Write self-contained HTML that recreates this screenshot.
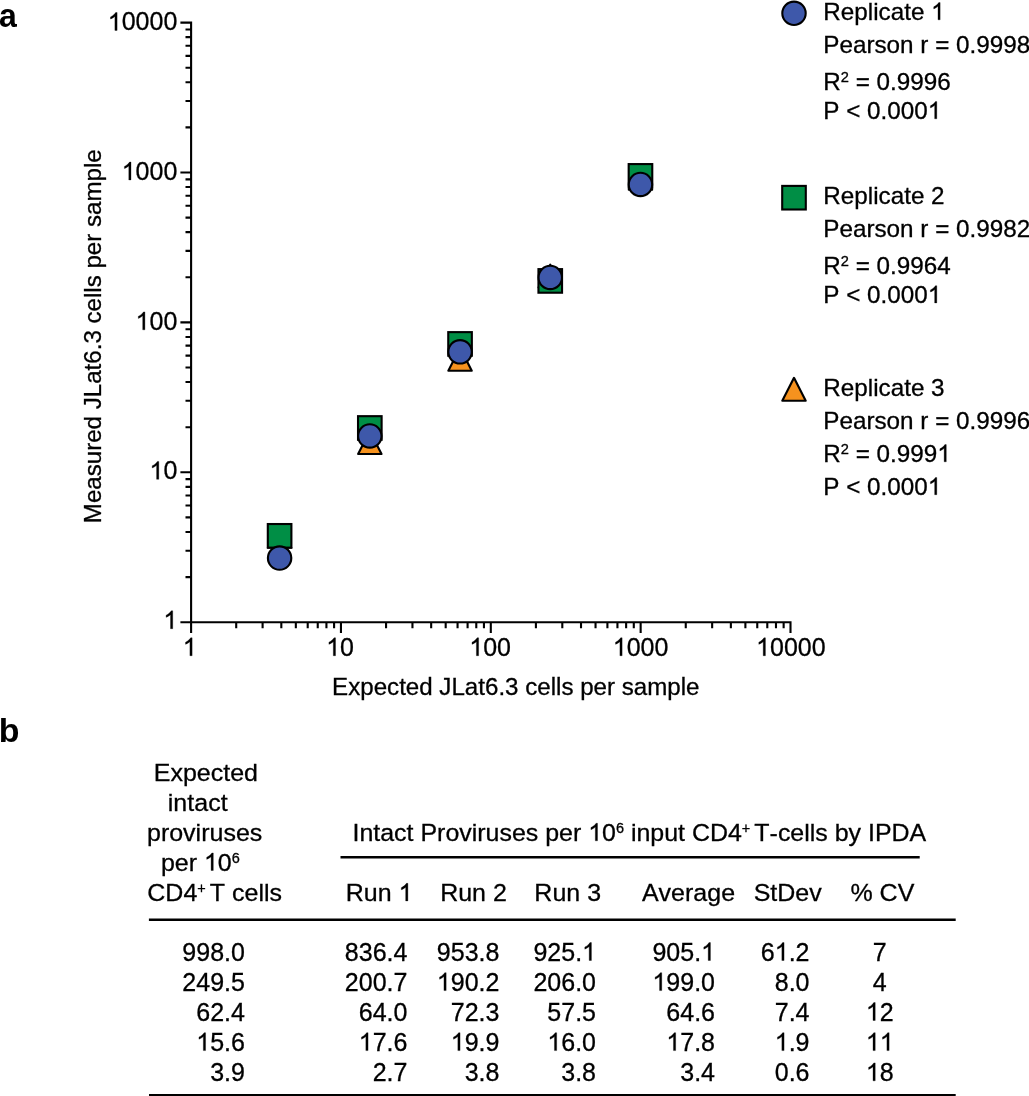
<!DOCTYPE html>
<html><head><meta charset="utf-8"><style>
html,body{margin:0;padding:0;background:#fff;width:1029px;height:1096px;overflow:hidden}
text{font-family:"Liberation Sans",sans-serif;white-space:pre}
</style></head><body>
<svg width="1029" height="1096" viewBox="0 0 1029 1096" style="position:absolute;left:0;top:0;will-change:transform" font-family="Liberation Sans, sans-serif">
<rect width="1029" height="1096" fill="#fff"/>
<text transform="translate(-0.9,26.5) scale(1,1.04)" font-size="32" font-weight="bold">a</text>
<text transform="translate(-1.2,742.1) scale(1.06,1.04)" font-size="32" font-weight="bold">b</text>
<path d="M180.40,22.60H191.10V632.90 M180.40,622.20H790.50V632.90 M180.40,622.20H191.10 M191.10,622.20V632.90 M185.50,577.08H191.10 M236.21,622.20V628.20 M185.50,550.68H191.10 M262.60,622.20V628.20 M185.50,531.95H191.10 M281.32,622.20V628.20 M185.50,517.42H191.10 M295.84,622.20V628.20 M185.50,505.56H191.10 M307.71,622.20V628.20 M185.50,495.52H191.10 M317.74,622.20V628.20 M185.50,486.83H191.10 M326.43,622.20V628.20 M185.50,479.16H191.10 M334.09,622.20V628.20 M180.40,472.30H191.10 M340.95,622.20V632.90 M185.50,427.18H191.10 M386.06,622.20V628.20 M185.50,400.78H191.10 M412.45,622.20V628.20 M185.50,382.05H191.10 M431.17,622.20V628.20 M185.50,367.52H191.10 M445.69,622.20V628.20 M185.50,355.66H191.10 M457.56,622.20V628.20 M185.50,345.62H191.10 M467.59,622.20V628.20 M185.50,336.93H191.10 M476.28,622.20V628.20 M185.50,329.26H191.10 M483.94,622.20V628.20 M180.40,322.40H191.10 M490.80,622.20V632.90 M185.50,277.28H191.10 M535.91,622.20V628.20 M185.50,250.88H191.10 M562.30,622.20V628.20 M185.50,232.15H191.10 M581.02,622.20V628.20 M185.50,217.62H191.10 M595.54,622.20V628.20 M185.50,205.76H191.10 M607.41,622.20V628.20 M185.50,195.72H191.10 M617.44,622.20V628.20 M185.50,187.03H191.10 M626.13,622.20V628.20 M185.50,179.36H191.10 M633.79,622.20V628.20 M180.40,172.50H191.10 M640.65,622.20V632.90 M185.50,127.38H191.10 M685.76,622.20V628.20 M185.50,100.98H191.10 M712.15,622.20V628.20 M185.50,82.25H191.10 M730.87,622.20V628.20 M185.50,67.72H191.10 M745.39,622.20V628.20 M185.50,55.86H191.10 M757.26,622.20V628.20 M185.50,45.82H191.10 M767.29,622.20V628.20 M185.50,37.13H191.10 M775.98,622.20V628.20 M185.50,29.46H191.10 M783.64,622.20V628.20 M180.40,22.60H191.10 M790.50,622.20V632.90" stroke="#000" stroke-width="2.1" fill="none" stroke-linecap="butt" stroke-linejoin="miter"/>
<g transform="translate(163.40,628.70) scale(1.0000,1.0000)"><text xml:space="preserve" x="0.00" y="0" font-size="25" stroke="#000" stroke-width="0.3"> </text><g stroke="#000" stroke-width="25.6"><path transform="translate(0.00,0) scale(0.01221,-0.01221)" d="M763,0L583,0L583,1147C540,1106 483,1065 413,1024C343,983 280,952 223,931L223,1105C323,1152 411,1210 486,1277C561,1344 614,1407 645,1466L763,1466Z"/></g></g>
<g transform="translate(182.80,655.70) scale(1.0000,1.0000)"><text xml:space="preserve" x="0.00" y="0" font-size="25" stroke="#000" stroke-width="0.3"> </text><g stroke="#000" stroke-width="25.6"><path transform="translate(0.00,0) scale(0.01221,-0.01221)" d="M763,0L583,0L583,1147C540,1106 483,1065 413,1024C343,983 280,952 223,931L223,1105C323,1152 411,1210 486,1277C561,1344 614,1407 645,1466L763,1466Z"/></g></g>
<g transform="translate(149.49,479.30) scale(1.0000,1.0000)"><text xml:space="preserve" x="0.00 13.90" y="0" font-size="25" stroke="#000" stroke-width="0.3"> 0</text><g stroke="#000" stroke-width="25.6"><path transform="translate(0.00,0) scale(0.01221,-0.01221)" d="M763,0L583,0L583,1147C540,1106 483,1065 413,1024C343,983 280,952 223,931L223,1105C323,1152 411,1210 486,1277C561,1344 614,1407 645,1466L763,1466Z"/></g></g>
<g transform="translate(326.20,655.70) scale(1.0000,1.0000)"><text xml:space="preserve" x="0.00 13.90" y="0" font-size="25" stroke="#000" stroke-width="0.3"> 0</text><g stroke="#000" stroke-width="25.6"><path transform="translate(0.00,0) scale(0.01221,-0.01221)" d="M763,0L583,0L583,1147C540,1106 483,1065 413,1024C343,983 280,952 223,931L223,1105C323,1152 411,1210 486,1277C561,1344 614,1407 645,1466L763,1466Z"/></g></g>
<g transform="translate(135.59,329.80) scale(1.0000,1.0000)"><text xml:space="preserve" x="0.00 13.90 27.81" y="0" font-size="25" stroke="#000" stroke-width="0.3"> 00</text><g stroke="#000" stroke-width="25.6"><path transform="translate(0.00,0) scale(0.01221,-0.01221)" d="M763,0L583,0L583,1147C540,1106 483,1065 413,1024C343,983 280,952 223,931L223,1105C323,1152 411,1210 486,1277C561,1344 614,1407 645,1466L763,1466Z"/></g></g>
<g transform="translate(469.30,655.70) scale(1.0000,1.0000)"><text xml:space="preserve" x="0.00 13.90 27.81" y="0" font-size="25" stroke="#000" stroke-width="0.3"> 00</text><g stroke="#000" stroke-width="25.6"><path transform="translate(0.00,0) scale(0.01221,-0.01221)" d="M763,0L583,0L583,1147C540,1106 483,1065 413,1024C343,983 280,952 223,931L223,1105C323,1152 411,1210 486,1277C561,1344 614,1407 645,1466L763,1466Z"/></g></g>
<g transform="translate(121.68,179.90) scale(1.0000,1.0000)"><text xml:space="preserve" x="0.00 13.90 27.81 41.71" y="0" font-size="25" stroke="#000" stroke-width="0.3"> 000</text><g stroke="#000" stroke-width="25.6"><path transform="translate(0.00,0) scale(0.01221,-0.01221)" d="M763,0L583,0L583,1147C540,1106 483,1065 413,1024C343,983 280,952 223,931L223,1105C323,1152 411,1210 486,1277C561,1344 614,1407 645,1466L763,1466Z"/></g></g>
<g transform="translate(612.80,655.70) scale(1.0000,1.0000)"><text xml:space="preserve" x="0.00 13.90 27.81 41.71" y="0" font-size="25" stroke="#000" stroke-width="0.3"> 000</text><g stroke="#000" stroke-width="25.6"><path transform="translate(0.00,0) scale(0.01221,-0.01221)" d="M763,0L583,0L583,1147C540,1106 483,1065 413,1024C343,983 280,952 223,931L223,1105C323,1152 411,1210 486,1277C561,1344 614,1407 645,1466L763,1466Z"/></g></g>
<g transform="translate(107.78,30.40) scale(1.0000,1.0000)"><text xml:space="preserve" x="0.00 13.90 27.81 41.71 55.62" y="0" font-size="25" stroke="#000" stroke-width="0.3"> 0000</text><g stroke="#000" stroke-width="25.6"><path transform="translate(0.00,0) scale(0.01221,-0.01221)" d="M763,0L583,0L583,1147C540,1106 483,1065 413,1024C343,983 280,952 223,931L223,1105C323,1152 411,1210 486,1277C561,1344 614,1407 645,1466L763,1466Z"/></g></g>
<g transform="translate(756.10,655.70) scale(1.0000,1.0000)"><text xml:space="preserve" x="0.00 13.90 27.81 41.71 55.62" y="0" font-size="25" stroke="#000" stroke-width="0.3"> 0000</text><g stroke="#000" stroke-width="25.6"><path transform="translate(0.00,0) scale(0.01221,-0.01221)" d="M763,0L583,0L583,1147C540,1106 483,1065 413,1024C343,983 280,952 223,931L223,1105C323,1152 411,1210 486,1277C561,1344 614,1407 645,1466L763,1466Z"/></g></g>
<g transform="translate(332.12,695.10) scale(1.0050,1.0000)"><text xml:space="preserve" x="0.00 16.01 28.01 41.36 54.70 66.70 73.37 86.72 100.07 106.73 118.73 132.08 145.43 152.10 165.45 172.11 185.46 192.13 204.13 217.48 222.81 228.14 240.14 246.81 260.16 273.50 281.50 288.16 300.16 313.51 333.50 346.85 352.18" y="0" font-size="24" stroke="#000" stroke-width="0.3">Expected JLat6.3 cells per sample</text></g>
<g transform="translate(100.90,523.18) rotate(-90) scale(1.0045,1.0000)"><text xml:space="preserve" x="0.00 19.99 33.34 46.69 58.69 72.04 80.03 93.38 106.72 113.39 125.39 138.74 152.09 158.75 172.10 178.77 192.12 198.79 210.79 224.13 229.46 234.80 246.80 253.46 266.81 280.16 288.15 294.82 306.82 320.17 340.16 353.51 358.84" y="0" font-size="24" stroke="#000" stroke-width="0.3">Measured JLat6.3 cells per sample</text></g>
<path d="M640.47,166.82L652.17,189.72H628.77Z" fill="#F6921E" stroke="#000" stroke-width="2.15" stroke-linejoin="round"/>
<path d="M550.25,264.67L561.95,287.57H538.55Z" fill="#F6921E" stroke="#000" stroke-width="2.15" stroke-linejoin="round"/>
<path d="M460.05,347.80L471.75,370.70H448.35Z" fill="#F6921E" stroke="#000" stroke-width="2.15" stroke-linejoin="round"/>
<path d="M369.82,431.13L381.52,454.03H358.12Z" fill="#F6921E" stroke="#000" stroke-width="2.15" stroke-linejoin="round"/>
<path d="M279.60,524.78L291.30,547.68H267.90Z" fill="#F6921E" stroke="#000" stroke-width="2.15" stroke-linejoin="round"/>
<rect x="628.67" y="164.08" width="23.6" height="23.6" fill="#008E45" stroke="#000" stroke-width="2.1"/>
<rect x="538.45" y="269.12" width="23.6" height="23.6" fill="#008E45" stroke="#000" stroke-width="2.1"/>
<rect x="448.25" y="332.13" width="23.6" height="23.6" fill="#008E45" stroke="#000" stroke-width="2.1"/>
<rect x="358.02" y="416.17" width="23.6" height="23.6" fill="#008E45" stroke="#000" stroke-width="2.1"/>
<rect x="267.80" y="524.03" width="23.6" height="23.6" fill="#008E45" stroke="#000" stroke-width="2.1"/>
<circle cx="640.47" cy="184.44" r="11.7" fill="#3E58AA" stroke="#000" stroke-width="2.1"/>
<circle cx="550.25" cy="277.42" r="11.7" fill="#3E58AA" stroke="#000" stroke-width="2.1"/>
<circle cx="460.05" cy="351.87" r="11.7" fill="#3E58AA" stroke="#000" stroke-width="2.1"/>
<circle cx="369.82" cy="435.97" r="11.7" fill="#3E58AA" stroke="#000" stroke-width="2.1"/>
<circle cx="279.60" cy="558.10" r="11.7" fill="#3E58AA" stroke="#000" stroke-width="2.1"/>
<circle cx="794.00" cy="13.30" r="11.7" fill="#3E58AA" stroke="#000" stroke-width="2.1"/>
<rect x="782.20" y="185.90" width="23.6" height="23.6" fill="#008E45" stroke="#000" stroke-width="2.1"/>
<path d="M794.00,377.85L805.70,400.75H782.30Z" fill="#F6921E" stroke="#000" stroke-width="2.15" stroke-linejoin="round"/>
<g transform="translate(823.31,19.80) scale(1.0100,1.0000)"><text xml:space="preserve" x="0.00 17.33 30.68 44.03 49.36 54.69 66.69 80.04 86.71 100.05 106.72" y="0" font-size="24" stroke="#000" stroke-width="0.3">Replicate  </text><g stroke="#000" stroke-width="25.6"><path transform="translate(106.72,0) scale(0.01172,-0.01172)" d="M763,0L583,0L583,1147C540,1106 483,1065 413,1024C343,983 280,952 223,931L223,1105C323,1152 411,1210 486,1277C561,1344 614,1407 645,1466L763,1466Z"/></g></g><g transform="translate(823.31,52.60) scale(1.0100,1.0000)"><text xml:space="preserve" x="0.00 16.01 29.36 42.70 50.70 62.70 76.04 89.39 96.06 104.05 110.72 124.73 131.40 144.75 151.42 164.77 178.11 191.46" y="0" font-size="24" stroke="#000" stroke-width="0.3">Pearson r = 0.9998</text></g><g transform="translate(823.31,89.70) scale(1.0100,1.0000)"><text xml:space="preserve" x="0.00" y="0" font-size="24" stroke="#000" stroke-width="0.3">R</text><text xml:space="preserve" x="17.33" y="-8.0" font-size="14.5" stroke="#000" stroke-width="0.3">2</text><text xml:space="preserve" x="25.40 32.06 46.08 52.75 66.10 72.76 86.11 99.46 112.81" y="0" font-size="24" stroke="#000" stroke-width="0.3"> = 0.9996</text></g><g transform="translate(823.31,118.80) scale(1.0100,1.0000)"><text xml:space="preserve" x="0.00 16.01 22.68 36.69 43.36 56.71 63.38 76.72 90.07 103.42" y="0" font-size="24" stroke="#000" stroke-width="0.3">P &lt; 0.000 </text><g stroke="#000" stroke-width="25.6"><path transform="translate(103.42,0) scale(0.01172,-0.01172)" d="M763,0L583,0L583,1147C540,1106 483,1065 413,1024C343,983 280,952 223,931L223,1105C323,1152 411,1210 486,1277C561,1344 614,1407 645,1466L763,1466Z"/></g></g>
<g transform="translate(823.31,204.30) scale(1.0100,1.0000)"><text xml:space="preserve" x="0.00 17.33 30.68 44.03 49.36 54.69 66.69 80.04 86.71 100.05 106.72" y="0" font-size="24" stroke="#000" stroke-width="0.3">Replicate 2</text></g><g transform="translate(823.31,237.20) scale(1.0100,1.0000)"><text xml:space="preserve" x="0.00 16.01 29.36 42.70 50.70 62.70 76.04 89.39 96.06 104.05 110.72 124.73 131.40 144.75 151.42 164.77 178.11 191.46" y="0" font-size="24" stroke="#000" stroke-width="0.3">Pearson r = 0.9982</text></g><g transform="translate(823.31,274.10) scale(1.0100,1.0000)"><text xml:space="preserve" x="0.00" y="0" font-size="24" stroke="#000" stroke-width="0.3">R</text><text xml:space="preserve" x="17.33" y="-8.0" font-size="14.5" stroke="#000" stroke-width="0.3">2</text><text xml:space="preserve" x="25.40 32.06 46.08 52.75 66.10 72.76 86.11 99.46 112.81" y="0" font-size="24" stroke="#000" stroke-width="0.3"> = 0.9964</text></g><g transform="translate(823.31,302.90) scale(1.0100,1.0000)"><text xml:space="preserve" x="0.00 16.01 22.68 36.69 43.36 56.71 63.38 76.72 90.07 103.42" y="0" font-size="24" stroke="#000" stroke-width="0.3">P &lt; 0.000 </text><g stroke="#000" stroke-width="25.6"><path transform="translate(103.42,0) scale(0.01172,-0.01172)" d="M763,0L583,0L583,1147C540,1106 483,1065 413,1024C343,983 280,952 223,931L223,1105C323,1152 411,1210 486,1277C561,1344 614,1407 645,1466L763,1466Z"/></g></g>
<g transform="translate(823.31,396.00) scale(1.0100,1.0000)"><text xml:space="preserve" x="0.00 17.33 30.68 44.03 49.36 54.69 66.69 80.04 86.71 100.05 106.72" y="0" font-size="24" stroke="#000" stroke-width="0.3">Replicate 3</text></g><g transform="translate(823.31,428.80) scale(1.0100,1.0000)"><text xml:space="preserve" x="0.00 16.01 29.36 42.70 50.70 62.70 76.04 89.39 96.06 104.05 110.72 124.73 131.40 144.75 151.42 164.77 178.11 191.46" y="0" font-size="24" stroke="#000" stroke-width="0.3">Pearson r = 0.9996</text></g><g transform="translate(823.31,461.80) scale(1.0100,1.0000)"><text xml:space="preserve" x="0.00" y="0" font-size="24" stroke="#000" stroke-width="0.3">R</text><text xml:space="preserve" x="17.33" y="-8.0" font-size="14.5" stroke="#000" stroke-width="0.3">2</text><text xml:space="preserve" x="25.40 32.06 46.08 52.75 66.10 72.76 86.11 99.46 112.81" y="0" font-size="24" stroke="#000" stroke-width="0.3"> = 0.999 </text><g stroke="#000" stroke-width="25.6"><path transform="translate(112.81,0) scale(0.01172,-0.01172)" d="M763,0L583,0L583,1147C540,1106 483,1065 413,1024C343,983 280,952 223,931L223,1105C323,1152 411,1210 486,1277C561,1344 614,1407 645,1466L763,1466Z"/></g></g><g transform="translate(823.31,494.70) scale(1.0100,1.0000)"><text xml:space="preserve" x="0.00 16.01 22.68 36.69 43.36 56.71 63.38 76.72 90.07 103.42" y="0" font-size="24" stroke="#000" stroke-width="0.3">P &lt; 0.000 </text><g stroke="#000" stroke-width="25.6"><path transform="translate(103.42,0) scale(0.01172,-0.01172)" d="M763,0L583,0L583,1147C540,1106 483,1065 413,1024C343,983 280,952 223,931L223,1105C323,1152 411,1210 486,1277C561,1344 614,1407 645,1466L763,1466Z"/></g></g>
<g transform="translate(153.75,780.50) scale(1.0000,0.9800)"><text xml:space="preserve" x="0.00 16.67 29.17 43.08 56.98 69.48 76.43 90.33" y="0" font-size="25" stroke="#000" stroke-width="0.3">Expected</text></g>
<g transform="translate(167.83,810.60) scale(1.0000,0.9800)"><text xml:space="preserve" x="0.00 5.55 19.46 26.40 40.31 52.81" y="0" font-size="25" stroke="#000" stroke-width="0.3">intact</text></g>
<g transform="translate(146.99,840.60) scale(1.0000,0.9800)"><text xml:space="preserve" x="0.00 13.90 22.23 36.13 48.63 54.19 62.51 76.42 88.92 102.82" y="0" font-size="25" stroke="#000" stroke-width="0.3">proviruses</text></g>
<g transform="translate(160.89,870.50) scale(1.0000,0.9800)"><text xml:space="preserve" x="0.00 13.90 27.81 36.13 43.08 56.98" y="0" font-size="25" stroke="#000" stroke-width="0.3">per  0</text><text xml:space="preserve" x="70.89" y="-8.1" font-size="14.5" stroke="#000" stroke-width="0.3">6</text><g stroke="#000" stroke-width="25.6"><path transform="translate(43.08,0) scale(0.01221,-0.01221)" d="M763,0L583,0L583,1147C540,1106 483,1065 413,1024C343,983 280,952 223,931L223,1105C323,1152 411,1210 486,1277C561,1344 614,1407 645,1466L763,1466Z"/></g></g>
<g transform="translate(147.33,900.90) scale(1.0000,0.9800)"><text xml:space="preserve" x="0.00 18.05 36.11" y="0" font-size="25" stroke="#000" stroke-width="0.3">CD4</text><text xml:space="preserve" x="50.01 58.48" y="-8.1" font-size="14.5" stroke="#000" stroke-width="0.3">+ </text><text xml:space="preserve" x="62.51 77.78 84.73 97.23 111.13 116.68 122.24" y="0" font-size="25" stroke="#000" stroke-width="0.3">T cells</text></g>
<g transform="translate(352.50,840.80) scale(0.9979,0.9800)"><text xml:space="preserve" x="0.00 6.95 20.85 27.80 41.70 54.20 61.15 68.09 84.77 93.09 106.99 119.49 125.05 133.37 147.28 159.78 173.68 186.18 193.13 207.03 220.94 229.26 236.21 250.11" y="0" font-size="25" stroke="#000" stroke-width="0.3">Intact Proviruses per  0</text><text xml:space="preserve" x="264.01" y="-8.1" font-size="14.5" stroke="#000" stroke-width="0.3">6</text><text xml:space="preserve" x="272.08 279.02 284.58 298.48 312.39 326.29 333.24 340.18 358.24 376.29" y="0" font-size="25" stroke="#000" stroke-width="0.3"> input CD4</text><text xml:space="preserve" x="390.19 398.66" y="-8.1" font-size="14.5" stroke="#000" stroke-width="0.3">+ </text><text xml:space="preserve" x="402.69 417.96 426.29 438.79 452.69 458.24 463.80 476.30 483.24 497.15 509.65 516.59 523.54 540.21 558.27" y="0" font-size="25" stroke="#000" stroke-width="0.3">T-cells by IPDA</text><g stroke="#000" stroke-width="25.6"><path transform="translate(236.21,0) scale(0.01221,-0.01221)" d="M763,0L583,0L583,1147C540,1106 483,1065 413,1024C343,983 280,952 223,931L223,1105C323,1152 411,1210 486,1277C561,1344 614,1407 645,1466L763,1466Z"/></g></g>
<path d="M340.5,857.2H919.7" stroke="#000" stroke-width="2.4"/>
<g transform="translate(345.75,900.90) scale(1.0000,0.9800)"><text xml:space="preserve" x="0.00 18.05 31.96 45.86 52.81" y="0" font-size="25" stroke="#000" stroke-width="0.3">Run  </text><g stroke="#000" stroke-width="25.6"><path transform="translate(52.81,0) scale(0.01221,-0.01221)" d="M763,0L583,0L583,1147C540,1106 483,1065 413,1024C343,983 280,952 223,931L223,1105C323,1152 411,1210 486,1277C561,1344 614,1407 645,1466L763,1466Z"/></g></g>
<g transform="translate(440.15,900.90) scale(1.0000,0.9800)"><text xml:space="preserve" x="0.00 18.05 31.96 45.86 52.81" y="0" font-size="25" stroke="#000" stroke-width="0.3">Run 2</text></g>
<g transform="translate(534.35,900.90) scale(1.0000,0.9800)"><text xml:space="preserve" x="0.00 18.05 31.96 45.86 52.81" y="0" font-size="25" stroke="#000" stroke-width="0.3">Run 3</text></g>
<g transform="translate(641.95,900.90) scale(1.0000,0.9800)"><text xml:space="preserve" x="0.00 16.67 29.17 43.08 51.40 65.31 79.21" y="0" font-size="25" stroke="#000" stroke-width="0.3">Average</text></g>
<g transform="translate(753.66,900.90) scale(1.0000,0.9800)"><text xml:space="preserve" x="0.00 16.67 23.62 41.67 55.58" y="0" font-size="25" stroke="#000" stroke-width="0.3">StDev</text></g>
<g transform="translate(850.41,900.90) scale(1.0000,0.9800)"><text xml:space="preserve" x="0.00 22.23 29.17 47.23" y="0" font-size="25" stroke="#000" stroke-width="0.3">% CV</text></g>
<path d="M148.9,919.8H955.7" stroke="#000" stroke-width="2.5"/>
<path d="M149,1095.3H955.7" stroke="#000" stroke-width="2.6"/>
<g transform="translate(182.34,960.50) scale(1.0000,1.0000)"><text xml:space="preserve" x="0.00 13.90 27.81 41.71 48.66" y="0" font-size="25" stroke="#000" stroke-width="0.3">998.0</text></g>
<g transform="translate(344.84,960.50) scale(1.0000,1.0000)"><text xml:space="preserve" x="0.00 13.90 27.81 41.71 48.66" y="0" font-size="25" stroke="#000" stroke-width="0.3">836.4</text></g>
<g transform="translate(436.84,960.50) scale(1.0000,1.0000)"><text xml:space="preserve" x="0.00 13.90 27.81 41.71 48.66" y="0" font-size="25" stroke="#000" stroke-width="0.3">953.8</text></g>
<g transform="translate(533.44,960.50) scale(1.0000,1.0000)"><text xml:space="preserve" x="0.00 13.90 27.81 41.71 48.66" y="0" font-size="25" stroke="#000" stroke-width="0.3">925. </text><g stroke="#000" stroke-width="25.6"><path transform="translate(48.66,0) scale(0.01221,-0.01221)" d="M763,0L583,0L583,1147C540,1106 483,1065 413,1024C343,983 280,952 223,931L223,1105C323,1152 411,1210 486,1277C561,1344 614,1407 645,1466L763,1466Z"/></g></g>
<g transform="translate(652.44,960.50) scale(1.0000,1.0000)"><text xml:space="preserve" x="0.00 13.90 27.81 41.71 48.66" y="0" font-size="25" stroke="#000" stroke-width="0.3">905. </text><g stroke="#000" stroke-width="25.6"><path transform="translate(48.66,0) scale(0.01221,-0.01221)" d="M763,0L583,0L583,1147C540,1106 483,1065 413,1024C343,983 280,952 223,931L223,1105C323,1152 411,1210 486,1277C561,1344 614,1407 645,1466L763,1466Z"/></g></g>
<g transform="translate(760.84,960.50) scale(1.0000,1.0000)"><text xml:space="preserve" x="0.00 13.90 27.81 34.75" y="0" font-size="25" stroke="#000" stroke-width="0.3">6 .2</text><g stroke="#000" stroke-width="25.6"><path transform="translate(13.90,0) scale(0.01221,-0.01221)" d="M763,0L583,0L583,1147C540,1106 483,1065 413,1024C343,983 280,952 223,931L223,1105C323,1152 411,1210 486,1277C561,1344 614,1407 645,1466L763,1466Z"/></g></g>
<g transform="translate(872.85,960.50) scale(1.0000,1.0000)"><text xml:space="preserve" x="0.00" y="0" font-size="25" stroke="#000" stroke-width="0.3">7</text></g>
<g transform="translate(182.34,990.60) scale(1.0000,1.0000)"><text xml:space="preserve" x="0.00 13.90 27.81 41.71 48.66" y="0" font-size="25" stroke="#000" stroke-width="0.3">249.5</text></g>
<g transform="translate(344.84,990.60) scale(1.0000,1.0000)"><text xml:space="preserve" x="0.00 13.90 27.81 41.71 48.66" y="0" font-size="25" stroke="#000" stroke-width="0.3">200.7</text></g>
<g transform="translate(436.84,990.60) scale(1.0000,1.0000)"><text xml:space="preserve" x="0.00 13.90 27.81 41.71 48.66" y="0" font-size="25" stroke="#000" stroke-width="0.3"> 90.2</text><g stroke="#000" stroke-width="25.6"><path transform="translate(0.00,0) scale(0.01221,-0.01221)" d="M763,0L583,0L583,1147C540,1106 483,1065 413,1024C343,983 280,952 223,931L223,1105C323,1152 411,1210 486,1277C561,1344 614,1407 645,1466L763,1466Z"/></g></g>
<g transform="translate(533.44,990.60) scale(1.0000,1.0000)"><text xml:space="preserve" x="0.00 13.90 27.81 41.71 48.66" y="0" font-size="25" stroke="#000" stroke-width="0.3">206.0</text></g>
<g transform="translate(652.44,990.60) scale(1.0000,1.0000)"><text xml:space="preserve" x="0.00 13.90 27.81 41.71 48.66" y="0" font-size="25" stroke="#000" stroke-width="0.3"> 99.0</text><g stroke="#000" stroke-width="25.6"><path transform="translate(0.00,0) scale(0.01221,-0.01221)" d="M763,0L583,0L583,1147C540,1106 483,1065 413,1024C343,983 280,952 223,931L223,1105C323,1152 411,1210 486,1277C561,1344 614,1407 645,1466L763,1466Z"/></g></g>
<g transform="translate(774.75,990.60) scale(1.0000,1.0000)"><text xml:space="preserve" x="0.00 13.90 20.85" y="0" font-size="25" stroke="#000" stroke-width="0.3">8.0</text></g>
<g transform="translate(872.85,990.60) scale(1.0000,1.0000)"><text xml:space="preserve" x="0.00" y="0" font-size="25" stroke="#000" stroke-width="0.3">4</text></g>
<g transform="translate(196.24,1020.50) scale(1.0000,1.0000)"><text xml:space="preserve" x="0.00 13.90 27.81 34.75" y="0" font-size="25" stroke="#000" stroke-width="0.3">62.4</text></g>
<g transform="translate(358.74,1020.50) scale(1.0000,1.0000)"><text xml:space="preserve" x="0.00 13.90 27.81 34.75" y="0" font-size="25" stroke="#000" stroke-width="0.3">64.0</text></g>
<g transform="translate(450.74,1020.50) scale(1.0000,1.0000)"><text xml:space="preserve" x="0.00 13.90 27.81 34.75" y="0" font-size="25" stroke="#000" stroke-width="0.3">72.3</text></g>
<g transform="translate(547.34,1020.50) scale(1.0000,1.0000)"><text xml:space="preserve" x="0.00 13.90 27.81 34.75" y="0" font-size="25" stroke="#000" stroke-width="0.3">57.5</text></g>
<g transform="translate(666.34,1020.50) scale(1.0000,1.0000)"><text xml:space="preserve" x="0.00 13.90 27.81 34.75" y="0" font-size="25" stroke="#000" stroke-width="0.3">64.6</text></g>
<g transform="translate(774.75,1020.50) scale(1.0000,1.0000)"><text xml:space="preserve" x="0.00 13.90 20.85" y="0" font-size="25" stroke="#000" stroke-width="0.3">7.4</text></g>
<g transform="translate(865.90,1020.50) scale(1.0000,1.0000)"><text xml:space="preserve" x="0.00 13.90" y="0" font-size="25" stroke="#000" stroke-width="0.3"> 2</text><g stroke="#000" stroke-width="25.6"><path transform="translate(0.00,0) scale(0.01221,-0.01221)" d="M763,0L583,0L583,1147C540,1106 483,1065 413,1024C343,983 280,952 223,931L223,1105C323,1152 411,1210 486,1277C561,1344 614,1407 645,1466L763,1466Z"/></g></g>
<g transform="translate(196.24,1050.60) scale(1.0000,1.0000)"><text xml:space="preserve" x="0.00 13.90 27.81 34.75" y="0" font-size="25" stroke="#000" stroke-width="0.3"> 5.6</text><g stroke="#000" stroke-width="25.6"><path transform="translate(0.00,0) scale(0.01221,-0.01221)" d="M763,0L583,0L583,1147C540,1106 483,1065 413,1024C343,983 280,952 223,931L223,1105C323,1152 411,1210 486,1277C561,1344 614,1407 645,1466L763,1466Z"/></g></g>
<g transform="translate(358.74,1050.60) scale(1.0000,1.0000)"><text xml:space="preserve" x="0.00 13.90 27.81 34.75" y="0" font-size="25" stroke="#000" stroke-width="0.3"> 7.6</text><g stroke="#000" stroke-width="25.6"><path transform="translate(0.00,0) scale(0.01221,-0.01221)" d="M763,0L583,0L583,1147C540,1106 483,1065 413,1024C343,983 280,952 223,931L223,1105C323,1152 411,1210 486,1277C561,1344 614,1407 645,1466L763,1466Z"/></g></g>
<g transform="translate(450.74,1050.60) scale(1.0000,1.0000)"><text xml:space="preserve" x="0.00 13.90 27.81 34.75" y="0" font-size="25" stroke="#000" stroke-width="0.3"> 9.9</text><g stroke="#000" stroke-width="25.6"><path transform="translate(0.00,0) scale(0.01221,-0.01221)" d="M763,0L583,0L583,1147C540,1106 483,1065 413,1024C343,983 280,952 223,931L223,1105C323,1152 411,1210 486,1277C561,1344 614,1407 645,1466L763,1466Z"/></g></g>
<g transform="translate(547.34,1050.60) scale(1.0000,1.0000)"><text xml:space="preserve" x="0.00 13.90 27.81 34.75" y="0" font-size="25" stroke="#000" stroke-width="0.3"> 6.0</text><g stroke="#000" stroke-width="25.6"><path transform="translate(0.00,0) scale(0.01221,-0.01221)" d="M763,0L583,0L583,1147C540,1106 483,1065 413,1024C343,983 280,952 223,931L223,1105C323,1152 411,1210 486,1277C561,1344 614,1407 645,1466L763,1466Z"/></g></g>
<g transform="translate(666.34,1050.60) scale(1.0000,1.0000)"><text xml:space="preserve" x="0.00 13.90 27.81 34.75" y="0" font-size="25" stroke="#000" stroke-width="0.3"> 7.8</text><g stroke="#000" stroke-width="25.6"><path transform="translate(0.00,0) scale(0.01221,-0.01221)" d="M763,0L583,0L583,1147C540,1106 483,1065 413,1024C343,983 280,952 223,931L223,1105C323,1152 411,1210 486,1277C561,1344 614,1407 645,1466L763,1466Z"/></g></g>
<g transform="translate(774.75,1050.60) scale(1.0000,1.0000)"><text xml:space="preserve" x="0.00 13.90 20.85" y="0" font-size="25" stroke="#000" stroke-width="0.3"> .9</text><g stroke="#000" stroke-width="25.6"><path transform="translate(0.00,0) scale(0.01221,-0.01221)" d="M763,0L583,0L583,1147C540,1106 483,1065 413,1024C343,983 280,952 223,931L223,1105C323,1152 411,1210 486,1277C561,1344 614,1407 645,1466L763,1466Z"/></g></g>
<g transform="translate(865.90,1050.60) scale(1.0000,1.0000)"><text xml:space="preserve" x="0.00 13.90" y="0" font-size="25" stroke="#000" stroke-width="0.3">  </text><g stroke="#000" stroke-width="25.6"><path transform="translate(0.00,0) scale(0.01221,-0.01221)" d="M763,0L583,0L583,1147C540,1106 483,1065 413,1024C343,983 280,952 223,931L223,1105C323,1152 411,1210 486,1277C561,1344 614,1407 645,1466L763,1466Z"/><path transform="translate(13.90,0) scale(0.01221,-0.01221)" d="M763,0L583,0L583,1147C540,1106 483,1065 413,1024C343,983 280,952 223,931L223,1105C323,1152 411,1210 486,1277C561,1344 614,1407 645,1466L763,1466Z"/></g></g>
<g transform="translate(210.15,1080.80) scale(1.0000,1.0000)"><text xml:space="preserve" x="0.00 13.90 20.85" y="0" font-size="25" stroke="#000" stroke-width="0.3">3.9</text></g>
<g transform="translate(372.65,1080.80) scale(1.0000,1.0000)"><text xml:space="preserve" x="0.00 13.90 20.85" y="0" font-size="25" stroke="#000" stroke-width="0.3">2.7</text></g>
<g transform="translate(464.65,1080.80) scale(1.0000,1.0000)"><text xml:space="preserve" x="0.00 13.90 20.85" y="0" font-size="25" stroke="#000" stroke-width="0.3">3.8</text></g>
<g transform="translate(561.25,1080.80) scale(1.0000,1.0000)"><text xml:space="preserve" x="0.00 13.90 20.85" y="0" font-size="25" stroke="#000" stroke-width="0.3">3.8</text></g>
<g transform="translate(680.25,1080.80) scale(1.0000,1.0000)"><text xml:space="preserve" x="0.00 13.90 20.85" y="0" font-size="25" stroke="#000" stroke-width="0.3">3.4</text></g>
<g transform="translate(774.75,1080.80) scale(1.0000,1.0000)"><text xml:space="preserve" x="0.00 13.90 20.85" y="0" font-size="25" stroke="#000" stroke-width="0.3">0.6</text></g>
<g transform="translate(865.90,1080.80) scale(1.0000,1.0000)"><text xml:space="preserve" x="0.00 13.90" y="0" font-size="25" stroke="#000" stroke-width="0.3"> 8</text><g stroke="#000" stroke-width="25.6"><path transform="translate(0.00,0) scale(0.01221,-0.01221)" d="M763,0L583,0L583,1147C540,1106 483,1065 413,1024C343,983 280,952 223,931L223,1105C323,1152 411,1210 486,1277C561,1344 614,1407 645,1466L763,1466Z"/></g></g>
</svg>
</body></html>
